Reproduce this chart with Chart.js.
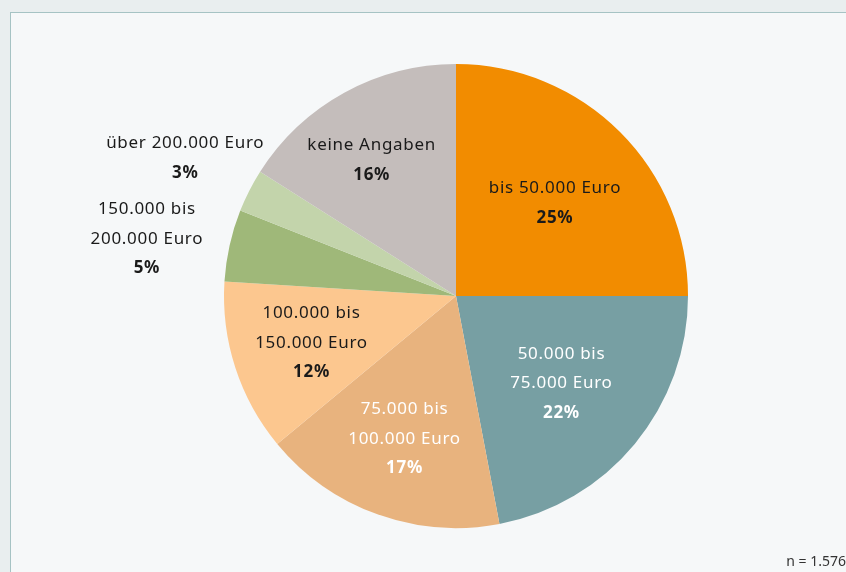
<!DOCTYPE html>
<html><head><meta charset="utf-8">
<script src="https://cdn.jsdelivr.net/npm/chart.js@4"></script>
<style>
html,body{margin:0;padding:0;background:#e9eeef;}
#wrap{position:relative;width:846px;height:572px;overflow:hidden;}
#panel{position:absolute;left:10px;top:12px;width:900px;height:700px;background:#f6f8f9;border:1.5px solid #a6c3c4;}
canvas{position:absolute;left:0;top:0;}
</style></head>
<body><div id="wrap"><div id="panel"></div><canvas id="c" width="846" height="572"></canvas></div>
<script>
const categories = [
  ["bis 50.000 Euro"],
  ["50.000 bis", "75.000 Euro"],
  ["75.000 bis", "100.000 Euro"],
  ["100.000 bis", "150.000 Euro"],
  ["150.000 bis", "200.000 Euro"],
  ["über 200.000 Euro"],
  ["keine Angaben"]
];
const shares = [25, 22, 17, 12, 5, 3, 16];
const colors = ["#f28c00", "#779fa3", "#e8b37e", "#fcc78f", "#9fb879", "#c3d4ab", "#c4bdbb"];
const labelColors = ["#1a1a1a", "#ffffff", "#ffffff", "#1a1a1a", "#1a1a1a", "#1a1a1a", "#1a1a1a"];
const labelRadius = [0.585, 0.59, 0.655, 0.655, 1.355, 1.31, 0.69];
const labelAngleShift = [1.8, 0, 0, 0, -2.1, 0, -3];
const note = "n = 1.576";

const sliceLabels = {
  id: 'sliceLabels',
  afterDatasetsDraw(chart) {
    const ctx = chart.ctx;
    const meta = chart.getDatasetMeta(0);
    meta.data.forEach((arc, i) => {
      const p = arc.getProps(['x','y','startAngle','endAngle','outerRadius'], true);
      const mid = (p.startAngle + p.endAngle) / 2 + labelAngleShift[i] * Math.PI / 180;
      const r = p.outerRadius * labelRadius[i];
      const cx = p.x + Math.cos(mid) * r;
      const cy = p.y + Math.sin(mid) * r;
      const lines = categories[i].slice();
      const total = lines.length + 1;
      const lh = 29.5;
      ctx.save();
      ctx.textAlign = 'center';
      ctx.textBaseline = 'middle';
      ctx.fillStyle = labelColors[i];
      ctx.letterSpacing = '0.7px';
      lines.forEach((t, k) => {
        ctx.font = '17px "Noto Sans"';
        ctx.fillText(t, cx, cy + (k - (total - 1) / 2) * lh);
      });
      ctx.font = 'bold 17px "Noto Sans"';
      ctx.fillText(shares[i] + '%', cx, cy + (lines.length - (total - 1) / 2) * lh);
      ctx.restore();
    });
    ctx.save();
    ctx.font = '14px "Noto Sans"';
    ctx.fillStyle = '#333';
    ctx.textAlign = 'right';
    ctx.textBaseline = 'middle';
    ctx.fillText(note, 846, 562);
    ctx.restore();
  }
};

new Chart(document.getElementById('c'), {
  type: 'pie',
  data: {
    labels: categories.map(c => c.join(' ')),
    datasets: [{ data: shares, backgroundColor: colors, borderWidth: 0 }]
  },
  options: {
    responsive: false,
    animation: false,
    layout: { padding: { left: 224, right: 158, top: 64, bottom: 44 } },
    plugins: { legend: { display: false }, tooltip: { enabled: false } }
  },
  plugins: [sliceLabels]
});
</script></body></html>
